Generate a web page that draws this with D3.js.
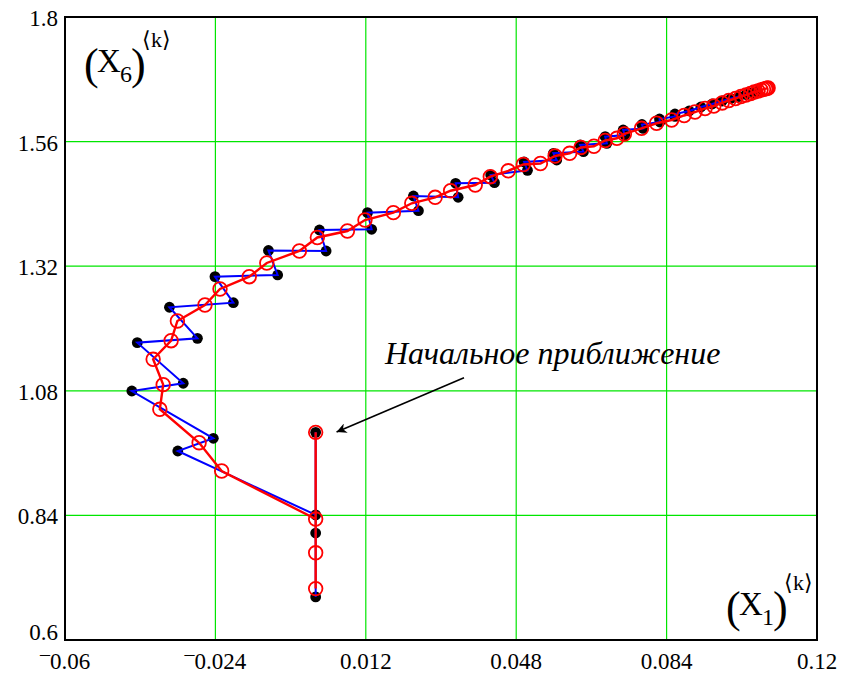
<!DOCTYPE html>
<html>
<head>
<meta charset="utf-8">
<script src="https://cdn.jsdelivr.net/npm/d3@7"></script>
<style>
  html, body { margin: 0; padding: 0; background: #fff; }
  svg { display: block; }
  svg text { font-family: "Liberation Serif", "Times New Roman", serif; fill: #000; }
</style>
</head>
<body>
<svg id="chart" width="845" height="675"></svg>
<script>
// ---- Data ----
const xTicks = [-0.06, -0.024, 0.012, 0.048, 0.084, 0.12];
const yTicks = [0.6, 0.84, 1.08, 1.32, 1.56, 1.8];

// Series 1 (black dots, blue line)
const x1Black = [0, 0, 0, 0, -0.0330, -0.0245, -0.0440, -0.0317, -0.0427, -0.0283,
  -0.0350, -0.0197, -0.0241, -0.0091, -0.0113, 0.0025, 0.0009, 0.0134, 0.0124, 0.0246,
  0.0234, 0.0341, 0.0335, 0.0428, 0.0419, 0.0507, 0.0499, 0.0577, 0.0569, 0.0641,
  0.0633, 0.0697, 0.0693, 0.0740, 0.0736, 0.0784, 0.0781, 0.0824, 0.0823, 0.0860,
  0.0860, 0.0894, 0.0922, 0.0949, 0.0973, 0.0994, 0.1013, 0.1030, 0.1044, 0.1056];
const x6Black = [1.0, 0.683, 0.806, 0.841, 0.964, 0.9885, 1.0796, 1.0945, 1.1727, 1.1811,
  1.2409, 1.2497, 1.2998, 1.3031, 1.3503, 1.3493, 1.3897, 1.3911, 1.4231, 1.4269,
  1.4552, 1.4527, 1.4797, 1.4809, 1.4957, 1.5047, 1.5207, 1.5246, 1.5375, 1.5406,
  1.5535, 1.5567, 1.5695, 1.5727, 1.5824, 1.5853, 1.5930, 1.5978, 1.6036, 1.6084,
  1.6132, 1.6190, 1.6267, 1.6324, 1.6382, 1.6430, 1.6469, 1.6507, 1.6536, 1.6565];

// Series 2 (red open circles, red line)
const x1Red = [0, 0, 0, 0, -0.0225, -0.0279, -0.0373, -0.0365, -0.0389, -0.0346,
  -0.0331, -0.0265, -0.0229, -0.0159, -0.0117, -0.0039, 0.0004, 0.0076, 0.0118, 0.0186,
  0.0230, 0.0286, 0.0323, 0.0382, 0.0418, 0.0461, 0.0497, 0.0538, 0.0573, 0.0608,
  0.0635, 0.0666, 0.0693, 0.0721, 0.0739, 0.0780, 0.0816, 0.0852, 0.0882, 0.0908,
  0.0932, 0.0953, 0.0973, 0.0989, 0.1005, 0.1018, 0.1030, 0.1041, 0.1050, 0.1059,
  0.1066, 0.1072, 0.1077, 0.1080, 0.1083];
const x6Red = [1.0, 0.699, 0.768, 0.833, 0.9255, 0.9800, 1.0444, 1.0918, 1.1407, 1.1765,
  1.2145, 1.2453, 1.2761, 1.2998, 1.3262, 1.3493, 1.3753, 1.3878, 1.4090, 1.4231,
  1.4412, 1.4527, 1.4654, 1.4764, 1.4924, 1.5038, 1.5159, 1.5178, 1.5323, 1.5375,
  1.5487, 1.5510, 1.5621, 1.5664, 1.5747, 1.5856, 1.5953, 1.6016, 1.6103, 1.6170,
  1.6238, 1.6286, 1.6344, 1.6392, 1.6430, 1.6469, 1.6498, 1.6527, 1.6556, 1.6575,
  1.6594, 1.6608, 1.6619, 1.6627, 1.6633];

const annotationText = "Начальное приближение";
const annotationFrom = [0.0355, 1.105];   // arrow tail (data coords)
const annotationTo = [0.0050, 1.0005];    // arrow head (data coords)

// ---- Layout ----
const L = 65, R = 817, T = 17, B = 640;
const x = d3.scaleLinear().domain([-0.06, 0.12]).range([L, R]);
const y = d3.scaleLinear().domain([0.6, 1.8]).range([B, T]);

const svg = d3.select("#chart");

// Grid
const grid = svg.append("g");
grid.selectAll("line.gx").data(xTicks.slice(1, -1)).join("line")
  .attr("x1", d => x(d)).attr("x2", d => x(d)).attr("y1", T).attr("y2", B)
  .attr("stroke", "#00e600").attr("stroke-width", 1.2);
grid.selectAll("line.gy").data(yTicks.slice(1, -1)).join("line")
  .attr("y1", d => y(d)).attr("y2", d => y(d)).attr("x1", L).attr("x2", R)
  .attr("stroke", "#00e600").attr("stroke-width", 1.2);

// Tick labels
const fmt = d3.format(".3~f");
const FS = 23;
function labelText(sel) {
  sel.each(function(d) {
    const t = d3.select(this);
    const s = fmt(Math.abs(d));
    if (d < 0) {
      t.append("tspan").attr("dy", -8).attr("font-size", "20px").text("\u2012");
      t.append("tspan").attr("dy", 8).text(s);
    } else {
      t.text(s);
    }
  });
}
svg.append("g").selectAll("text").data(xTicks).join("text")
  .attr("x", d => x(d)).attr("y", 669)
  .attr("text-anchor", "middle").attr("font-size", FS + "px")
  .call(labelText);

svg.append("g").selectAll("text").data(yTicks).join("text")
  .attr("x", 58).attr("y", d => d === 0.6 ? B : y(d) + 9)
  .attr("text-anchor", "end").attr("font-size", FS + "px")
  .call(labelText);

// Series
const blackPts = x1Black.map((v, i) => [v, x6Black[i]]);
const redPts = x1Red.map((v, i) => [v, x6Red[i]]);
const line = d3.line().x(d => x(d[0])).y(d => y(d[1]));

svg.append("g").selectAll("circle").data(blackPts).join("circle")
  .attr("cx", d => x(d[0])).attr("cy", d => y(d[1])).attr("r", 5.4).attr("fill", "#000");
svg.append("path").datum(blackPts).attr("d", line)
  .attr("fill", "none").attr("stroke", "#0000ff").attr("stroke-width", 2);
svg.append("path").datum(redPts).attr("d", line)
  .attr("fill", "none").attr("stroke", "#ff0000").attr("stroke-width", 2.4);
svg.append("g").selectAll("circle").data(redPts).join("circle")
  .attr("cx", d => x(d[0])).attr("cy", d => y(d[1])).attr("r", 6.8)
  .attr("fill", "none").attr("stroke", "#ff0000").attr("stroke-width", 1.8);

// Frame
svg.append("rect").attr("x", L).attr("y", T).attr("width", R - L).attr("height", B - T)
  .attr("fill", "none").attr("stroke", "#000").attr("stroke-width", 2);

// Axis variable labels
function varLabel(x0, yBase, sub) {
  const g = svg.append("g").attr("transform", `translate(${x0},${yBase})`);
  g.append("text").attr("x", 0).attr("y", 7).attr("font-size", "44px").text("(");
  g.append("text").attr("x", 13).attr("y", 0).attr("font-size", "33px").text("X");
  g.append("text").attr("x", 36).attr("y", 10).attr("font-size", "24px").text(sub);
  g.append("text").attr("x", 47).attr("y", 7).attr("font-size", "44px").text(")");
  g.append("text").attr("x", 58).attr("y", -25).attr("font-size", "22px").text("\u27E8k\u27E9");
}
varLabel(84, 72, "6");
varLabel(726, 615, "1");

// Annotation
svg.append("text").attr("x", 385).attr("y", 364)
  .attr("font-size", "32px").attr("font-style", "italic").text(annotationText);

svg.append("defs").append("marker").attr("id", "arr")
  .attr("viewBox", "0 0 10 10").attr("refX", 10).attr("refY", 5)
  .attr("markerWidth", 16).attr("markerHeight", 10).attr("markerUnits", "userSpaceOnUse")
  .attr("orient", "auto")
  .append("path").attr("d", "M0,0 L10,5 L0,10 L3,5 Z").attr("fill", "#000");
svg.append("line")
  .attr("x1", x(annotationFrom[0])).attr("y1", y(annotationFrom[1]))
  .attr("x2", x(annotationTo[0])).attr("y2", y(annotationTo[1]))
  .attr("stroke", "#000").attr("stroke-width", 1.6).attr("marker-end", "url(#arr)");
</script>
</body>
</html>
